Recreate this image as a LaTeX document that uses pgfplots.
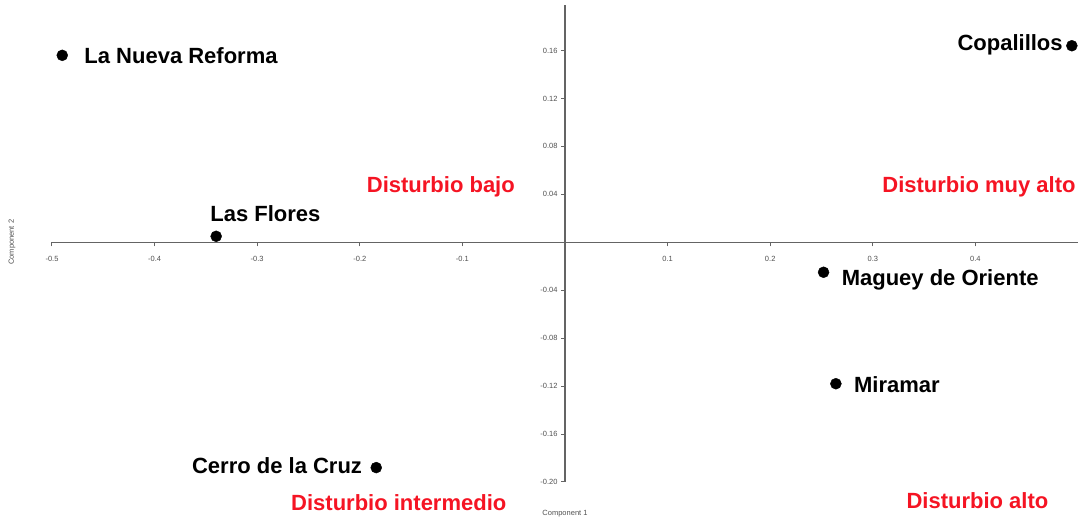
\documentclass[border=0pt]{standalone}
\usepackage{pgfplots}
\pgfplotsset{compat=1.18}
\usepackage{fontspec}
\setmainfont{Liberation Sans}
\definecolor{lblred}{RGB}{245,20,35}
\definecolor{axgray}{RGB}{100,100,100}
\definecolor{tickgray}{RGB}{80,80,80}
\begin{document}
\begin{tikzpicture}
\begin{axis}[
  at={(0,0)}, anchor=south west,
  scale only axis,
  width=1026pt, height=477pt,
  xmin=-0.5, xmax=0.5,
  ymin=-0.2, ymax=0.198,
  axis lines=center,
  axis line style={-, axgray, line width=1.4pt},
  clip=false,
  xtick={-0.5,-0.4,-0.3,-0.2,-0.1,0.1,0.2,0.3,0.4},
  xticklabels={-0.5,-0.4,-0.3,-0.2,-0.1,0.1,0.2,0.3,0.4},
  ytick={-0.2,-0.16,-0.12,-0.08,-0.04,0.04,0.08,0.12,0.16},
  yticklabels={-0.20,-0.16,-0.12,-0.08,-0.04,0.04,0.08,0.12,0.16},
  tick style={axgray, line width=1pt},
  major tick length=4pt,
  xtick align=outside, ytick align=outside,
  every tick label/.append style={font=\fontsize{7.5}{9}\selectfont, text=tickgray},
  xticklabel style={yshift=-6pt},
  yticklabel style={xshift=0pt},
]
\addplot[only marks, mark=*, mark size=5.5pt, black] coordinates {(-0.490,0.156)} node[pos=0, anchor=west, inner sep=0, xshift=22pt, font=\fontsize{22}{26}\bfseries\selectfont] {La Nueva Reforma};
\addplot[only marks, mark=*, mark size=5.5pt, black] coordinates {(0.494,0.164)} node[pos=0, anchor=east, inner sep=0, xshift=-9pt, yshift=1pt, font=\fontsize{22}{26}\bfseries\selectfont] {Copalillos};
\addplot[only marks, mark=*, mark size=5.5pt, black] coordinates {(-0.340,0.005)} node[pos=0, anchor=west, inner sep=0, xshift=-6pt, yshift=23pt, font=\fontsize{22}{26}\bfseries\selectfont] {Las Flores};
\addplot[only marks, mark=*, mark size=5.5pt, black] coordinates {(0.252,-0.025)} node[pos=0, anchor=west, inner sep=0, xshift=18pt, yshift=-8pt, font=\fontsize{22}{26}\bfseries\selectfont] {Maguey de Oriente};
\addplot[only marks, mark=*, mark size=5.5pt, black] coordinates {(0.264,-0.118)} node[pos=0, anchor=west, inner sep=0, xshift=18pt, yshift=-1pt, font=\fontsize{22}{26}\bfseries\selectfont] {Miramar};
\addplot[only marks, mark=*, mark size=5.5pt, black] coordinates {(-0.184,-0.188)} node[pos=0, anchor=east, inner sep=0, xshift=-14pt, yshift=2pt, font=\fontsize{22}{26}\bfseries\selectfont] {Cerro de la Cruz};
\node[text=lblred, font=\fontsize{22}{26}\bfseries\selectfont] at (axis cs:-0.121,0.046) {Disturbio bajo};
\node[text=lblred, font=\fontsize{22}{26}\bfseries\selectfont] at (axis cs:0.4035,0.046) {Disturbio muy alto};
\node[text=lblred, font=\fontsize{22}{26}\bfseries\selectfont] at (axis cs:-0.162,-0.2176) {Disturbio intermedio};
\node[text=lblred, font=\fontsize{22}{26}\bfseries\selectfont] at (axis cs:0.402,-0.2159) {Disturbio alto};
\node[text=tickgray, font=\fontsize{7.5}{9}\selectfont] at (axis cs:0,-0.2268) {Component 1};
\node[text=tickgray, font=\fontsize{7.5}{9}\selectfont, rotate=90] at (axis cs:-0.539,0) {Component 2};
\end{axis}
\pgfresetboundingbox
\path[use as bounding box] (-52pt,-39pt) rectangle (1029pt,482pt);
\end{tikzpicture}
\end{document}
